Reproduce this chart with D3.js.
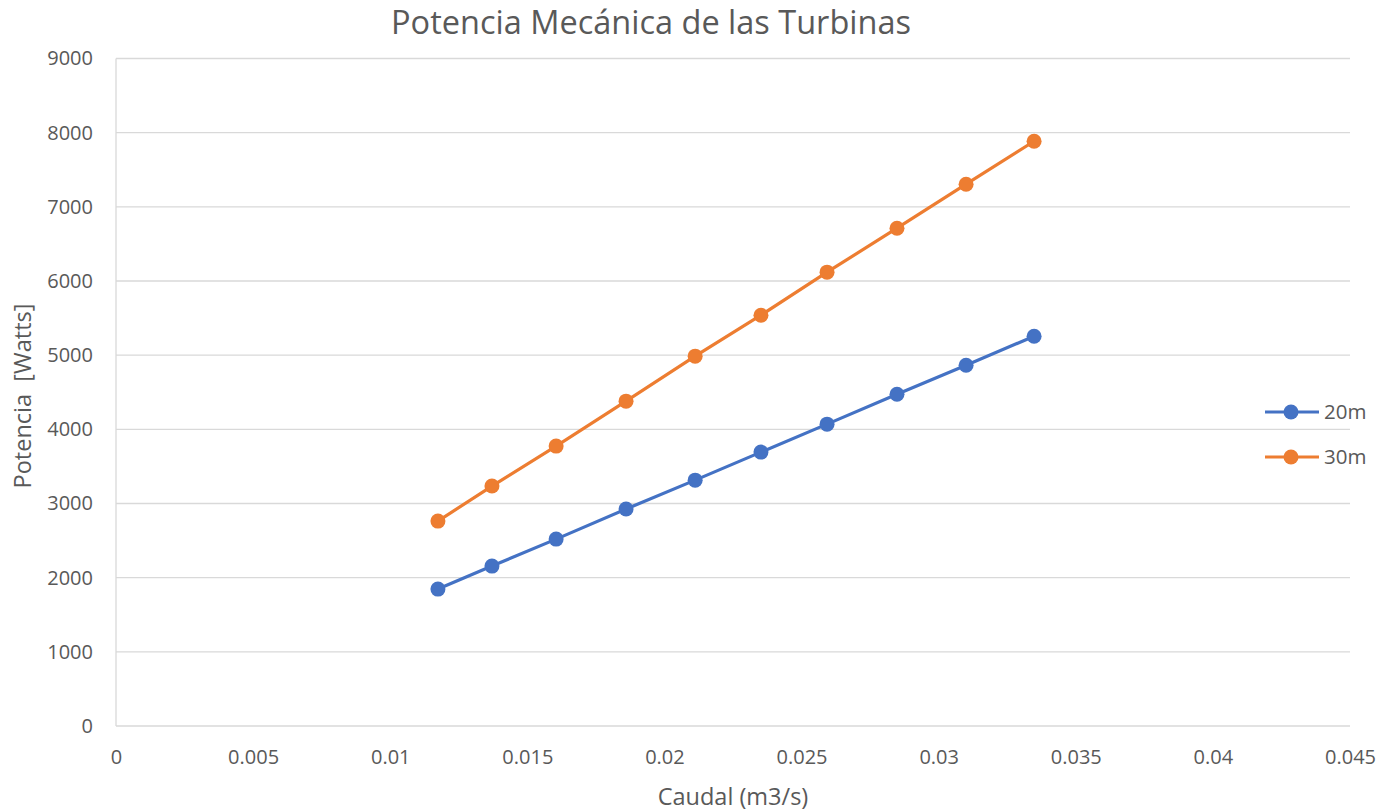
<!DOCTYPE html>
<html>
<head>
<meta charset="utf-8">
<script src="https://cdn.jsdelivr.net/npm/d3@7"></script>
<style>
  html, body { margin: 0; padding: 0; background: #ffffff; }
  svg { display: block; font-family: "Open Sans", "Noto Sans", sans-serif; }
</style>
</head>
<body>
<svg id="chart" width="1381" height="811"></svg>
<script>
// Caudal (m3/s) for each measurement
const caudal = [0.01174, 0.01371, 0.01605, 0.01860, 0.02112, 0.02352, 0.02593, 0.02848, 0.03100, 0.03348];
// Mechanical power at 20 m head (W)
const potencia20 = [1846, 2156, 2520, 2925, 3315, 3693, 4070, 4474, 4865, 5256];
// Mechanical power at 30 m head (W)
const potencia30 = [2763, 3235, 3774, 4380, 4987, 5539, 6119, 6712, 7305, 7884];
const seriesNames = ["20m", "30m"];
const xTicks = [0, 0.005, 0.01, 0.015, 0.02, 0.025, 0.03, 0.035, 0.04, 0.045];
const yTicks = [0, 1000, 2000, 3000, 4000, 5000, 6000, 7000, 8000, 9000];

const colors = ["#4472C4", "#ED7D31"];
const textColor = "#595959";
const gridColor = "#D9D9D9";
const fontStack = "'Open Sans', 'Noto Sans', sans-serif";

const svg = d3.select("#chart");
const plot = { left: 116, right: 1350, top: 58.5, bottom: 726 };

const x = d3.scaleLinear().domain([0, 0.045]).range([plot.left, plot.right]);
const y = d3.scaleLinear().domain([0, 9000]).range([plot.bottom, plot.top]);

// Horizontal gridlines
svg.append("g")
  .selectAll("line")
  .data(yTicks)
  .join("line")
  .attr("x1", plot.left).attr("x2", plot.right)
  .attr("y1", d => y(d)).attr("y2", d => y(d))
  .attr("stroke", gridColor).attr("stroke-width", 1.3);

// Vertical axis line
svg.append("line")
  .attr("x1", plot.left).attr("x2", plot.left)
  .attr("y1", plot.top).attr("y2", plot.bottom)
  .attr("stroke", gridColor).attr("stroke-width", 1.3);

// Axes (labels only)
const xAxis = d3.axisBottom(x).tickValues(xTicks).tickSize(0).tickPadding(24)
  .tickFormat(d => d3.format("")(+d.toFixed(3)));
const gx = svg.append("g").attr("transform", `translate(0,${plot.bottom})`).call(xAxis)
  .attr("font-family", fontStack);
gx.select(".domain").remove();
gx.selectAll("text").attr("fill", textColor).style("font-size", "20px");

const yAxis = d3.axisLeft(y).tickValues(yTicks).tickSize(0).tickPadding(23).tickFormat(d3.format("d"));
const gy = svg.append("g").attr("transform", `translate(${plot.left},0)`).call(yAxis)
  .attr("font-family", fontStack);
gy.select(".domain").remove();
gy.selectAll("text").attr("fill", textColor).style("font-size", "20px");

// Series lines and markers
const data = [potencia20, potencia30].map((vals, i) => ({
  name: seriesNames[i],
  color: colors[i],
  points: vals.map((v, j) => ({ q: caudal[j], p: v }))
}));

const line = d3.line().x(d => x(d.q)).y(d => y(d.p));

data.forEach(s => {
  svg.append("path")
    .datum(s.points)
    .attr("d", line)
    .attr("fill", "none")
    .attr("stroke", s.color)
    .attr("stroke-width", 3.2)
    .attr("stroke-linejoin", "round");
  svg.append("g")
    .selectAll("circle")
    .data(s.points)
    .join("circle")
    .attr("cx", d => x(d.q)).attr("cy", d => y(d.p))
    .attr("r", 7.5)
    .attr("fill", s.color);
});

// Legend
const legend = svg.append("g");
data.forEach((s, i) => {
  const ly = 412 + i * 45;
  legend.append("line")
    .attr("x1", 1265).attr("x2", 1319).attr("y1", ly).attr("y2", ly)
    .attr("stroke", s.color).attr("stroke-width", 3.2);
  legend.append("circle").attr("cx", 1291).attr("cy", ly).attr("r", 7.5).attr("fill", s.color);
  legend.append("text")
    .attr("x", 1324).attr("y", ly).attr("dy", "0.35em")
    .attr("fill", textColor).style("font-size", "20.5px")
    .text(s.name);
});

// Title
svg.append("text")
  .attr("x", 651).attr("y", 34)
  .attr("text-anchor", "middle")
  .attr("fill", textColor)
  .style("font-size", "32.5px")
  .text("Potencia Mecánica de las Turbinas");

// Axis titles
svg.append("text")
  .attr("x", 733).attr("y", 805)
  .attr("text-anchor", "middle")
  .attr("fill", textColor)
  .style("font-size", "23.5px")
  .text("Caudal (m3/s)");

svg.append("text")
  .attr("transform", "translate(31,396) rotate(-90)")
  .attr("text-anchor", "middle")
  .attr("fill", textColor)
  .style("font-size", "23.5px")
  .style("white-space", "pre")
  .text("Potencia  [Watts]");
</script>
</body>
</html>
